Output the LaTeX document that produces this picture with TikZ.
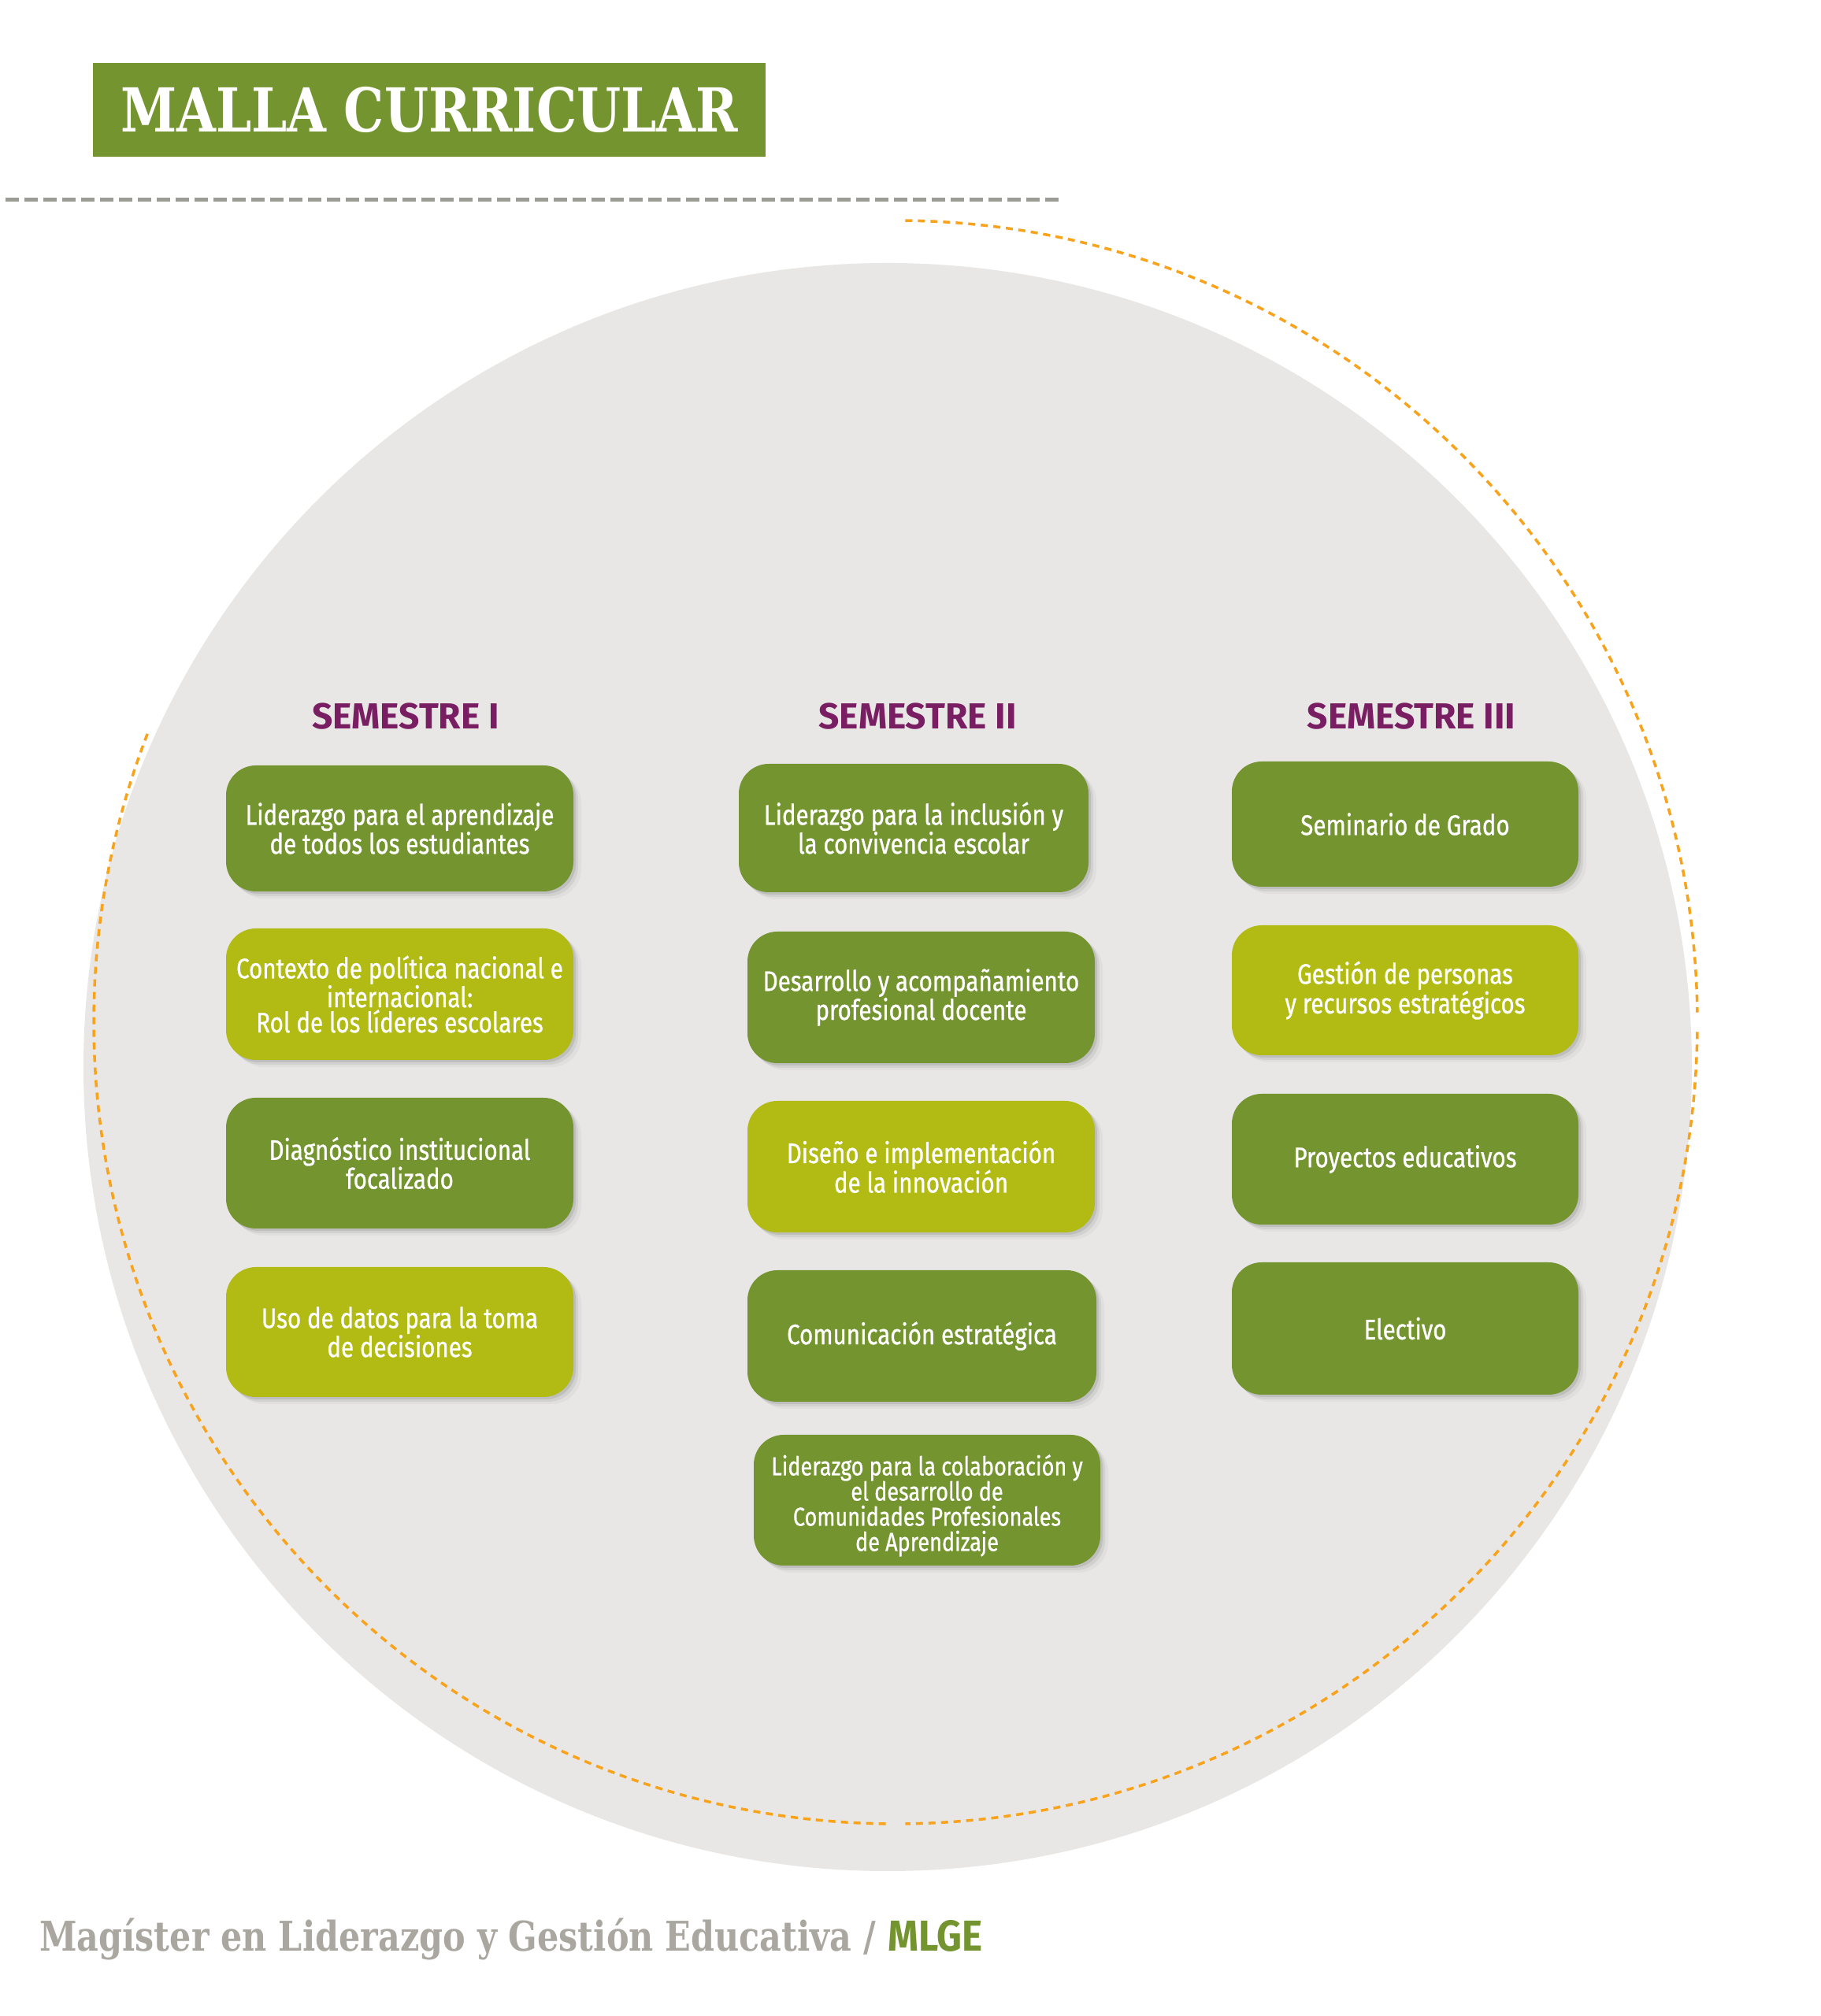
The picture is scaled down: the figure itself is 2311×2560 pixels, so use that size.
\documentclass[tikz,border=0pt]{standalone}
\usepackage{fontspec}
\usetikzlibrary{shadows}
\setmainfont{Fira Sans}
\newfontfamily\boxfont{Fira Sans}[FakeStretch=0.82,FakeBold=0.8]
\newfontfamily\headfont{Fira Sans}
\newfontfamily\slabfont{DejaVu Serif}[FakeStretch=0.835]
\newfontfamily\footslab{DejaVu Serif}[FakeStretch=0.825]
\newfontfamily\mlgefont{Fira Sans}[FakeStretch=0.9]
\definecolor{dkgreen}{HTML}{73942F}
\definecolor{limegreen}{HTML}{B1BB13}
\definecolor{plum}{HTML}{7A1E63}
\definecolor{circlegray}{HTML}{E8E7E5}
\definecolor{dashgray}{HTML}{9C9C97}
\definecolor{footgray}{HTML}{A9A79F}
\definecolor{orangeline}{HTML}{F8A31B}
\begin{document}
\begin{tikzpicture}[x=1pt,y=1pt,
  softshadow/.style={
    drop shadow={shadow xshift=3pt,shadow yshift=-3pt,opacity=0.14,fill=black!70},
    drop shadow={shadow xshift=6pt,shadow yshift=-6pt,opacity=0.09,fill=black!70},
    drop shadow={shadow xshift=10pt,shadow yshift=-9pt,opacity=0.05,fill=black!70}},
  course/.style={rounded corners=38pt, align=center, text=white, inner sep=0pt,
    font=\boxfont\fontsize{36}{32}\selectfont, softshadow},
  darkbox/.style={course, fill=dkgreen},
  limebox/.style={course, fill=limegreen},
  semhead/.style={anchor=base, inner sep=0pt, text=plum, font=\headfont\bfseries\fontsize{46}{46}\selectfont},
  graydash/.style={draw=dashgray, line width=5pt, dash pattern=on 17pt off 7pt},
  orangedash/.style={draw=orangeline, line width=3.5pt, dash pattern=on 9pt off 7pt},
]
\useasboundingbox (0,0) rectangle (2311,2560);
\fill[white] (0,0) rectangle (2311,2560);

% big gray circle
\fill[circlegray] (1127,1205) circle[radius=1021];

% orange dashed arcs
\coordinate (oc) at (1137,1262);
\draw[orangedash] (oc) ++(89.3:1018) arc[start angle=89.3, end angle=0.7, radius=1018];
\draw[orangedash] (oc) ++(-0.7:1018) arc[start angle=-0.7, end angle=-89.3, radius=1018];
\draw[orangedash] (oc) ++(-90.7:1018) arc[start angle=-90.7, end angle=-201.4, radius=1018];

% title
\node[fill=dkgreen, minimum width=854pt, minimum height=119pt, inner sep=0pt,
  text=white, font=\slabfont\bfseries\fontsize{77}{77}\selectfont] (title) at (545,2420.5) {MALLA CURRICULAR};

% gray dashed rule
\coordinate (dl) at (7,2306);
\coordinate (dr) at (1345,2306);
\draw[graydash] (dl) -- (dr);

% semester headers
\node[semhead] (s1) at (515,1634) {SEMESTRE I};
\node[semhead] (s2) at (1165,1634) {SEMESTRE II};
\node[semhead] (s3) at (1792,1634) {SEMESTRE III};

% column 1
\node[darkbox, minimum width=441pt, minimum height=160pt] (a1) at (507.5,1508) {Liderazgo para el aprendizaje\\de todos los estudiantes};
\node[limebox, minimum width=441pt, minimum height=167pt] (a2) at (507.5,1297.5) {Contexto de política nacional e\\internacional:\\Rol de los líderes escolares};
\node[darkbox, minimum width=441pt, minimum height=166pt] (a3) at (507.5,1083) {Diagnóstico institucional\\focalizado};
\node[limebox, minimum width=441pt, minimum height=165pt] (a4) at (507.5,868.5) {Uso de datos para la toma\\de decisiones};

% column 2
\node[darkbox, minimum width=444pt, minimum height=163pt] (b1) at (1160,1508.5) {Liderazgo para la inclusión y\\la convivencia escolar};
\node[darkbox, minimum width=441pt, minimum height=167pt] (b2) at (1169.5,1293.5) {Desarrollo y acompañamiento\\profesional docente};
\node[limebox, minimum width=441pt, minimum height=167pt] (b3) at (1169.5,1078.5) {Diseño e implementación\\de la innovación};
\node[darkbox, minimum width=443pt, minimum height=167pt] (b4) at (1170.5,863.5) {Comunicación estratégica};
\node[darkbox, minimum width=440pt, minimum height=166pt, font=\boxfont\fontsize{33}{32}\selectfont] (b5) at (1177,655) {\rule{0pt}{40pt}Liderazgo para la colaboración y\\el desarrollo de\\Comunidades Profesionales\\de Aprendizaje};

% column 3
\node[darkbox, minimum width=440pt, minimum height=159pt] (c1) at (1784,1513.5) {Seminario de Grado};
\node[limebox, minimum width=440pt, minimum height=165pt] (c2) at (1784,1302.5) {Gestión de personas\\y recursos estratégicos};
\node[darkbox, minimum width=440pt, minimum height=166pt] (c3) at (1784,1088) {Proyectos educativos};
\node[darkbox, minimum width=440pt, minimum height=168pt] (c4) at (1784,873) {Electivo};

% footer
\node[anchor=base west, inner sep=0pt, text=footgray, font=\footslab\bfseries\fontsize{52}{52}\selectfont] (foot) at (50,82) {Magíster en Liderazgo y Gestión Educativa /};
\node[anchor=base west, inner sep=0pt, text=dkgreen, font=\mlgefont\bfseries\fontsize{55}{55}\selectfont] (mlge) at (1127,82) {MLGE};
\end{tikzpicture}
\end{document}
